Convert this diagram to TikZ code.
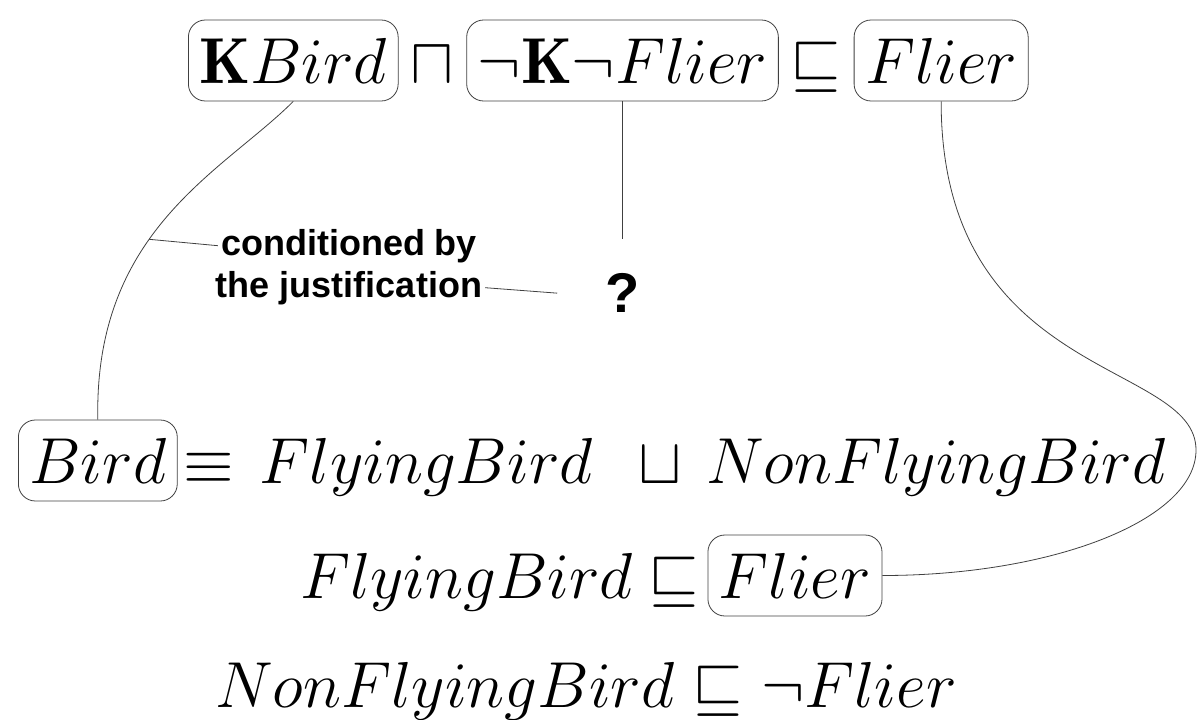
\RequirePackage{fix-cm}
\documentclass[tikz,border=0pt]{standalone}
\usepackage{fontspec}
\newfontfamily\labelfont{Liberation Sans}
\usetikzlibrary{positioning}
\tikzset{
    axiom/.style={font=\fontsize{65}{78}\selectfont},
    concept/.style={axiom, draw=black!75, line width=0.8pt, rounded corners=17pt,
        inner xsep=11pt, inner ysep=0pt, text height=63pt, text depth=18pt},
    term/.style={axiom, inner sep=0pt},
    note/.style={font=\labelfont\bfseries\fontsize{36}{40}\selectfont, inner sep=3pt},
    query/.style={font=\labelfont\bfseries\fontsize{56}{60}\selectfont, inner xsep=48pt, inner ysep=34pt},
    link/.style={draw=black!75, line width=0.8pt}
}

\begin{document}
\begin{tikzpicture}[x=1pt,y=-1pt]
    \useasboundingbox (0,0) rectangle (1197,720);
    % default rule
    \node[concept, anchor=base west] (kbird) at (188,83) {$\mathbf{K}Bird$};
    \node[term, base right=12pt of kbird] (meet) {$\sqcap$};
    \node[concept, base right=12pt of meet] (nkflier) {$\neg\mathbf{K}\neg Flier$};
    \node[term, base right=12pt of nkflier] (incl) {$\sqsubseteq$};
    \node[concept, base right=12pt of incl] (flier) {$Flier$};
    % terminology
    \node[concept, anchor=base west] (bird) at (18,483) {$Bird$};
    \node[term, base right=6pt of bird] (equiv) {$\equiv$};
    \node[term, base right=25pt of equiv] (flying) {$FlyingBird$};
    \node[term, base right=45pt of flying] (join) {$\sqcup$};
    \node[term, base right=24pt of join] (nonflying) {$NonFlyingBird$};
    \node[term, anchor=base west] (flying2) at (300,598) {$FlyingBird$};
    \node[term, base right=15pt of flying2] (incl2) {$\sqsubseteq$};
    \node[concept, base right=8pt of incl2] (flier2) {$Flier$};
    \node[term, anchor=base] (nonflier) at (586,707) {$NonFlyingBird \sqsubseteq \neg Flier$};
    % justification
    \node[query, below=138pt of nkflier] (query) {?};
    \node[note, anchor=base] (cond1) at (349,255) {conditioned by};
    \node[note, anchor=base] (cond2) at (349,297) {the justification};
    \coordinate (bend) at (1196,450);

    \draw[link] (kbird.south) .. controls +(-70,70) and +(-4,-190) .. (bird.north) coordinate[pos=0.58] (joint);
    \draw[link] (joint) -- (cond1.west);
    \draw[link] (cond2.east) -- (query.west);
    \draw[link] (nkflier.south) -- (query.north);
    \draw[link] (flier.south) .. controls +(0,280) and +(0,-90) .. (bend) .. controls +(0,70) and +(170,0) .. (flier2.east);
\end{tikzpicture}
\end{document}
